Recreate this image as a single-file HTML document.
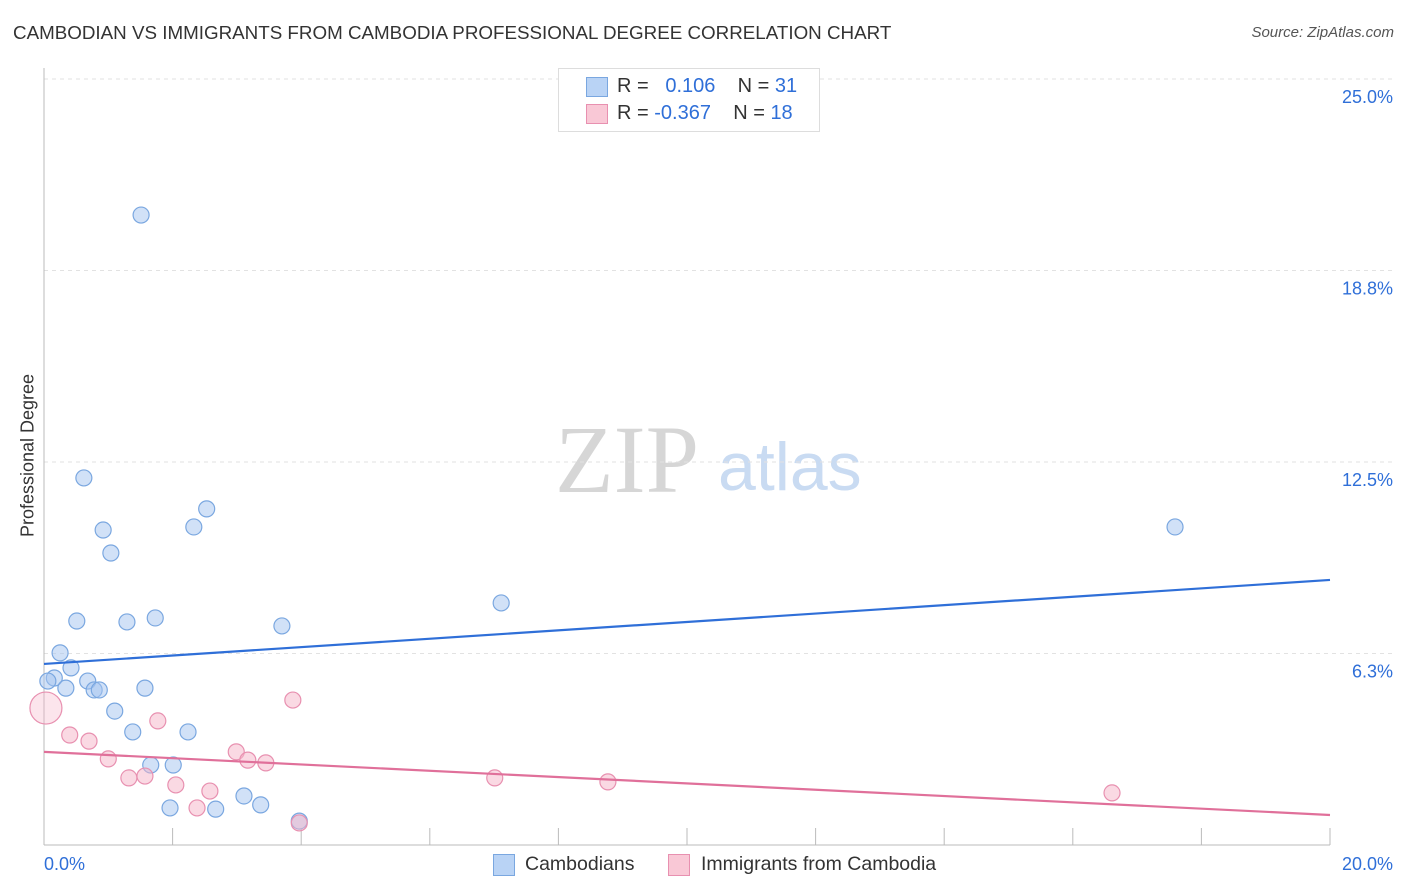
<!DOCTYPE html>
<html><head><meta charset="utf-8"><style>
body{margin:0;background:#fff;font-family:"Liberation Sans",sans-serif;}
#wrap{position:relative;width:1406px;height:892px;overflow:hidden;}
.t{position:absolute;white-space:nowrap;}
</style></head><body>
<div id="wrap">
<div class="t" style="left:13px;top:22px;font-size:18.8px;color:#333;">CAMBODIAN VS IMMIGRANTS FROM CAMBODIA PROFESSIONAL DEGREE CORRELATION CHART</div>
<div class="t" style="right:12px;top:24px;font-size:15px;color:#555;font-style:italic;">Source: ZipAtlas.com</div>
<div class="t" style="left:-57px;top:445px;width:170px;text-align:center;font-size:18px;color:#333;transform:rotate(-90deg);">Professional Degree</div>
<svg id="svg" width="1406" height="892" style="position:absolute;left:0;top:0">
<text x="555" y="492" font-family="Liberation Serif" font-size="96" fill="#d6d6d6">ZIP</text>
<text x="718" y="490" font-family="Liberation Sans" font-size="68" fill="#c9dbf2">atlas</text>
<g id="grid"></g><g id="marks"></g>
</svg>
<div style="position:absolute;left:558px;top:68px;width:260px;height:62px;border:1px solid #ddd;background:#fff;font-size:20px;">
 <div style="position:absolute;left:27px;top:8px;width:20px;height:18px;background:#b9d3f5;border:1px solid #7aa7e0;"></div>
 <div class="t" style="left:58px;top:6px;color:#333;">R = <span style="color:#2f6fd8">&nbsp;&nbsp;0.106</span>&nbsp;&nbsp;&nbsp; N = <span style="color:#2f6fd8">31</span></div>
 <div style="position:absolute;left:27px;top:35px;width:20px;height:18px;background:#f9c8d6;border:1px solid #e890b0;"></div>
 <div class="t" style="left:58px;top:33px;color:#333;">R = <span style="color:#2f6fd8">-0.367</span>&nbsp;&nbsp;&nbsp; N = <span style="color:#2f6fd8">18</span></div>
</div>
<div style="position:absolute;left:493px;top:854px;width:20px;height:20px;background:#b9d3f5;border:1px solid #7aa7e0;"></div>
<div class="t" style="left:525px;top:853px;font-size:19.5px;color:#333;">Cambodians</div>
<div style="position:absolute;left:668px;top:854px;width:20px;height:20px;background:#f9c8d6;border:1px solid #e890b0;"></div>
<div class="t" style="left:701px;top:853px;font-size:19.5px;color:#333;">Immigrants from Cambodia</div>
</div>
<script>
const yTicks=[6.25,12.5,18.75,25];
const yTickLabels=["6.3%","12.5%","18.8%","25.0%"];
const xTickLabels=["0.0%","20.0%"];
const blueX=[1.51,0.62,2.53,0.92,2.33,1.04,0.51,1.29,1.73,3.70,7.11,17.59,0.25,0.42,0.16,0.06,0.68,0.34,0.78,0.86,1.57,1.10,1.38,2.24,1.66,2.01,1.96,2.67,3.11,3.37,3.97];
const blueY=[20.56,11.98,10.97,10.28,10.38,9.53,7.31,7.28,7.41,7.15,7.90,10.38,6.27,5.78,5.45,5.35,5.35,5.12,5.06,5.06,5.12,4.37,3.69,3.69,2.61,2.61,1.21,1.17,1.60,1.31,0.78];
const pinkX=[0.03,0.40,0.70,1.00,1.77,1.32,1.57,2.05,2.38,2.58,2.99,3.17,3.45,3.87,3.97,7.01,8.77,16.61];
const pinkY=[4.47,3.59,3.39,2.81,4.05,2.19,2.25,1.96,1.21,1.76,3.04,2.77,2.68,4.73,0.72,2.19,2.06,1.70];
const blueTrend=[5.91,8.65];
const pinkTrend=[3.04,0.98];
const X=v=>44+v/20*1286, Y=v=>845-v/25*766;
const NS="http://www.w3.org/2000/svg";
const grid=document.getElementById('grid'), marks=document.getElementById('marks');
function mk(tag,attrs,parent){const e=document.createElementNS(NS,tag);for(const k in attrs)e.setAttribute(k,attrs[k]);parent.appendChild(e);return e;}
yTicks.forEach((t,i)=>{
 const l=mk('line',{x1:44,x2:1392,y1:Y(t),y2:Y(t),stroke:'#e2e2e2','stroke-dasharray':'4,4'},grid);
 
 
 const tx=mk('text',{x:1393,y:Y(t)+24,'text-anchor':'end','font-size':18,fill:'#2f6fd8','font-family':'Liberation Sans'},grid);
 tx.textContent=yTickLabels[i];
 
 
});
const ax=mk('line',{x1:44,x2:1330,y1:845,y2:845,stroke:'#bbb'},grid);


const ay=mk('line',{x1:44,x2:44,y1:68,y2:845,stroke:'#bbb'},grid);


for(let v=2;v<=20;v+=2){
 const tk=mk('line',{x1:X(v),x2:X(v),y1:828,y2:845,stroke:'#bbb'},grid);
 
 
}
[[0,'start',44],[20,'end',1393]].forEach((a,i)=>{
 const tx=mk('text',{x:a[2],y:870,'text-anchor':a[1],'font-size':18,fill:'#2f6fd8','font-family':'Liberation Sans'},grid);
 tx.textContent=xTickLabels[i];
 
 
});
blueX.forEach((x,i)=>{
 const c=mk('circle',{cx:X(x),cy:Y(blueY[i]),r:8,fill:'rgba(164,196,240,0.5)',stroke:'#7aa7e0','stroke-width':1.2},marks);
 
 
});
pinkX.forEach((x,i)=>{
 const c=mk('circle',{cx:X(x),cy:Y(pinkY[i]),r:i===0?16:8,fill:i===0?'rgba(245,180,200,0.35)':'rgba(245,180,200,0.5)',stroke:'#e890b0','stroke-width':1.2},marks);
 
 
});
const bl=mk('line',{x1:X(0),x2:X(20),y1:Y(blueTrend[0]),y2:Y(blueTrend[1]),stroke:'#2f6fd8','stroke-width':2.2},marks);


const pl=mk('line',{x1:X(0),x2:X(20),y1:Y(pinkTrend[0]),y2:Y(pinkTrend[1]),stroke:'#e0709a','stroke-width':2.2},marks);


</script>
</body></html>
